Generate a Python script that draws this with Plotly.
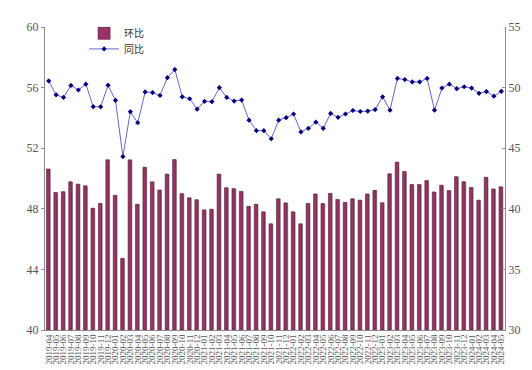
import plotly.graph_objects as go

months = [f"{y}-{m:02d}" for y in range(2019, 2025) for m in range(1, 13)]
categories = months[3:3 + 62]  # 2019-04 .. 2024-05

huanbi = [50.63, 49.07, 49.13, 49.78, 49.63, 49.52, 48.04, 48.36, 51.23, 48.89,
          44.73, 51.23, 48.30, 50.74, 49.78, 49.24, 50.29, 51.25, 49.00, 48.73,
          48.60, 47.93, 47.97, 50.29, 49.39, 49.33, 49.15, 48.17, 48.30, 47.80,
          47.01, 48.66, 48.39, 47.80, 47.01, 48.35, 48.98, 48.34, 49.02, 48.62,
          48.42, 48.66, 48.57, 48.98, 49.22, 48.40, 50.31, 51.08, 50.46, 49.60,
          49.60, 49.86, 49.11, 49.56, 49.20, 50.12, 49.79, 49.41, 48.57, 50.08,
          49.31, 49.45]

tongbi = [50.55, 49.40, 49.19, 50.18, 49.80, 50.28, 48.43, 48.41, 50.20, 48.95,
          44.31, 48.01, 47.10, 49.64, 49.59, 49.35, 50.82, 51.49, 49.24, 49.08,
          48.22, 48.87, 48.84, 49.99, 49.19, 48.89, 48.97, 47.31, 46.45, 46.45,
          45.78, 47.31, 47.52, 47.82, 46.34, 46.64, 47.15, 46.64, 47.87, 47.55,
          47.82, 48.11, 48.03, 48.06, 48.19, 49.24, 48.14, 50.76, 50.66, 50.47,
          50.47, 50.76, 48.14, 49.96, 50.28, 49.91, 50.07, 49.96, 49.53, 49.67,
          49.29, 49.69]

left_ticks = [40, 44, 48, 52, 56, 60]
right_ticks = [30, 35, 40, 45, 50, 55]

serif = "Liberation Serif, Times New Roman, serif"
axis_col = "#8c8c8c"
tick_font = dict(family=serif, size=12, color="#555555")
legend_font = dict(family="Noto Sans CJK SC", size=10, color="#333333")

fig = go.Figure()
# soft grey shadow behind each bar
fig.add_trace(go.Bar(
    x=categories, y=[v - 40 for v in huanbi], base=40, name="shadow",
    marker=dict(color="#a0a0a0", line=dict(width=0)),
    width=0.44, offset=-0.16, yaxis="y", showlegend=False, hoverinfo="skip",
))
fig.add_trace(go.Bar(
    x=categories, y=[v - 40 for v in huanbi], base=40, name="环比",
    marker=dict(color="#993366", line=dict(color="#4d1a33", width=0.6)),
    width=0.44, offset=-0.3, yaxis="y", legend="legend",
))
fig.add_trace(go.Scatter(
    x=categories, y=tongbi, name="同比", mode="lines+markers",
    line=dict(color="#6666cc", width=1),
    marker=dict(color="#000080", size=4, symbol="diamond"),
    yaxis="y2", legend="legend2",
))

fig.update_layout(
    width=532, height=370,
    margin=dict(l=37, r=35, t=11, b=48),
    plot_bgcolor="white", paper_bgcolor="white",
    showlegend=True,
    barmode="overlay",
    legend=dict(x=0.085, y=0.979, xanchor="left", yanchor="middle",
                bgcolor="rgba(0,0,0,0)", borderwidth=0,
                font=legend_font, itemwidth=30),
    legend2=dict(x=0.085, y=0.9277, xanchor="left", yanchor="middle",
                 bgcolor="rgba(0,0,0,0)", borderwidth=0,
                 font=legend_font, itemwidth=30),
    xaxis=dict(
        type="category", tickangle=-90,
        tickmode="array", tickvals=categories, ticktext=categories,
        tickfont=dict(family=serif, size=9, color="#555555"),
        showline=True, linecolor=axis_col, linewidth=1,
        showgrid=False, ticks="", range=[-0.5, 61.5],
    ),
    yaxis=dict(
        range=[40, 60], tickvals=left_ticks, ticktext=[str(t) for t in left_ticks],
        showgrid=False, showline=True, linecolor=axis_col, linewidth=1,
        ticks="outside", ticklen=3, tickcolor=axis_col,
        tickfont=tick_font, zeroline=False,
    ),
    yaxis2=dict(
        range=[30, 55], tickvals=right_ticks, ticktext=[str(t) for t in right_ticks],
        overlaying="y", side="right",
        showgrid=False, showline=True, linecolor=axis_col, linewidth=1,
        ticks="inside", ticklen=3, tickcolor=axis_col,
        tickfont=tick_font, zeroline=False,
    ),
)

fig.write_html("out.html")
